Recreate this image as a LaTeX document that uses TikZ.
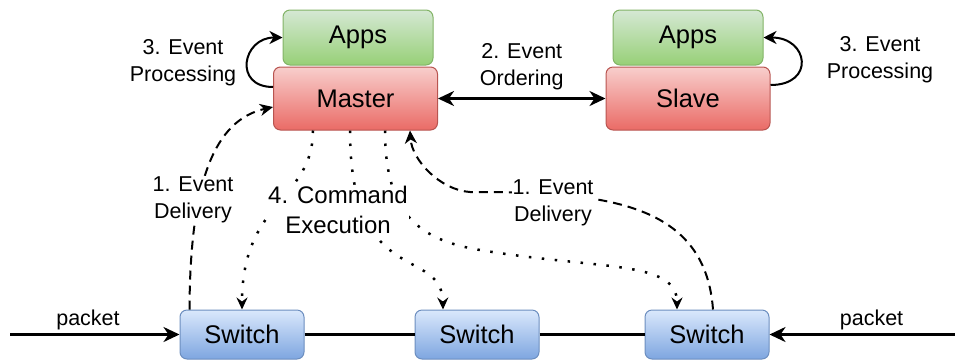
\documentclass[tikz,border=0pt]{standalone}
\usepackage{fontspec}
\setmainfont{Liberation Sans}
\usepackage{xcolor}
\usetikzlibrary{arrows.meta, positioning, calc}
\definecolor{appstop}{HTML}{D5E8D4}
\definecolor{appsbot}{HTML}{97D077}
\definecolor{appsline}{HTML}{82B366}
\definecolor{redtop}{HTML}{F8CECC}
\definecolor{redbot}{HTML}{EA6B66}
\definecolor{redline}{HTML}{B85450}
\definecolor{bluetop}{HTML}{DAE8FC}
\definecolor{bluebot}{HTML}{7EA6E0}
\definecolor{blueline}{HTML}{6C8EBF}
\newcommand{\boxfont}{\fontsize{25.5}{30}\selectfont}
\newcommand{\cmdfont}{\fontsize{24}{30}\selectfont}
\newcommand{\lblfont}{\fontsize{21.5}{27}\selectfont}
\tikzstyle{appsbox} = [rectangle, rounded corners=7pt, line width=1pt, draw=appsline, top color=appstop, bottom color=appsbot, minimum width=150pt, minimum height=55pt, text centered, font=\boxfont]
\tikzstyle{ctrlbox} = [rectangle, rounded corners=7pt, line width=1pt, draw=redline, top color=redtop, bottom color=redbot, minimum width=164pt, minimum height=63pt, text centered, font=\boxfont]
\tikzstyle{switchbox} = [rectangle, rounded corners=7pt, line width=1pt, draw=blueline, top color=bluetop, bottom color=bluebot, minimum width=124pt, minimum height=49pt, text centered, font=\boxfont]
\tikzstyle{lbl} = [align=center, font=\lblfont, inner sep=1pt]
\tikzstyle{wlbl} = [lbl, fill=white]
\tikzstyle{arrow} = [line width=2.5pt, -{Stealth[length=16pt, width=15pt, inset=5pt]}]
\tikzstyle{wire} = [line width=2.5pt]
\tikzstyle{looparrow} = [line width=2pt, -{Stealth[length=13pt, width=13pt, inset=4pt]}]
\tikzstyle{dasharrow} = [line width=2pt, dash pattern=on 9pt off 6pt, -{Stealth[length=13pt, width=12pt, inset=4pt]}]
\tikzstyle{dotarrow} = [line width=2.5pt, dash pattern=on 2.5pt off 10.5pt, -{Stealth[length=12pt, width=11pt, inset=4pt]}]
\begin{document}
\begin{tikzpicture}[x=1pt, y=-1pt]
    \useasboundingbox (0,0) rectangle (955,360);
    \node (master) [ctrlbox] at (355.5,98.5) {Master};
    \node (appsm) [appsbox, above=1pt of master, xshift=2.5pt] {Apps};
    \node (slave) [ctrlbox] at (688,98.5) {Slave};
    \node (appss) [appsbox, above=1pt of slave] {Apps};
    \node (sw1) [switchbox] at (242,334.5) {Switch};
    \node (sw2) [switchbox, right=110pt of sw1] {Switch};
    \node (sw3) [switchbox, right=105pt of sw2] {Switch};
    \coordinate (inL) at (10,334.5);
    \coordinate (inR) at (955,334.5);

    % packets on the wire
    \draw [arrow] (inL) -- node[lbl, above=2pt, pos=0.46] {packet} (sw1);
    \draw [arrow] (inR) -- node[lbl, above=2pt, pos=0.45] {packet} (sw3);
    \draw [wire] (sw1) -- (sw2);
    \draw [wire] (sw2) -- (sw3);

    % ordering and processing
    \draw [arrow, {Stealth[length=16pt, width=15pt, inset=5pt]}-{Stealth[length=16pt, width=15pt, inset=5pt]}] (master) -- node[lbl, above=6pt] {2. Event\\Ordering} (slave);
    \draw [looparrow] ([yshift=11.5pt]master.west) to[out=180, in=180, distance=40pt] (appsm.west);
    \draw [looparrow] ([yshift=13.5pt]slave.east) to[out=0, in=0, distance=45pt] (appss.east);
    \node (procl) [lbl] at (183,63) {3. Event\\Processing};
    \node (procr) [lbl] at (880,60) {3. Event\\Processing};

    % event delivery
    \draw [dasharrow] ([xshift=10pt]sw1.north west) .. controls (190,180) and (215,120) .. ([yshift=-8.5pt]master.west);
    \draw [dasharrow] ([xshift=6pt]sw3.north) .. controls (705,200) and (600,192) .. (470,192) .. controls (440,190) and (412,160) .. ([xshift=54.5pt]master.south);

    % command execution
    \draw [dotarrow] ([xshift=-42.5pt]master.south) .. controls (313,200) and (242,200) .. (sw1.north);
    \draw [dotarrow] ([xshift=-5.5pt]master.south) .. controls (350,290) and (442,245) .. ([xshift=-34pt]sw2.north);
    \draw [dotarrow] ([xshift=29.5pt]master.south) .. controls (385,215) and (420,240) .. (480,250) .. controls (600,270) and (677,260) .. ([xshift=-30pt]sw3.north);

    \node (delivl) [wlbl] at (193,200) {1. Event\\Delivery};
    \node (delivr) [wlbl] at (553,203) {1. Event\\Delivery};
    \node (cmd) [wlbl, font=\cmdfont] at (338,210) {4. Command\\Execution};
\end{tikzpicture}
\end{document}
